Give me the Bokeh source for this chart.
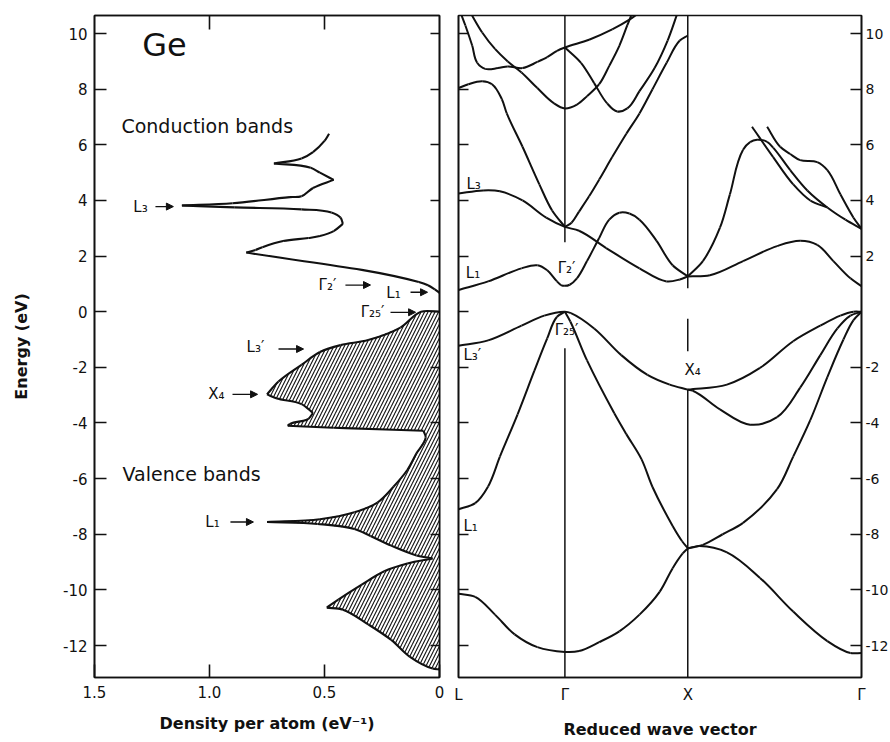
import math
from bokeh.plotting import figure
from bokeh.layouts import row
from bokeh.models import (Range1d, FixedTicker, LinearAxis, Label, Arrow,
                          NormalHead, ColumnDataSource)
from bokeh.embed import file_html
from bokeh.resources import INLINE

# ---------------- data ----------------
energy_ticks = [-12, -10, -8, -6, -4, -2, 0, 2, 4, 6, 8, 10]
energy_ticks_right = [-12, -10, -8, -6, -4, -2, 2, 4, 6, 8, 10]
dens_ticks = [1.5, 1.0, 0.5, 0.0]
dens_tick_labels = ["1.5", "1.0", "0.5", "0"]
k_sym = [0.0, 0.866, 1.866, 3.28]
k_sym_labels = ["L", "Γ", "X", "Γ"]

# density of states, conduction band (eV, states/eV/atom)
cond_e = [0.68, 0.80, 0.95, 1.07, 2.13, 2.22, 2.32, 2.54, 2.65, 2.72, 2.90, 3.16, 3.38, 3.57,
          3.68, 3.75, 3.82, 3.90, 4.12, 4.15, 4.45, 4.74, 5.00, 5.18, 5.33, 5.51, 5.74, 6.14, 6.40]
cond_d = [0.00, 0.02, 0.05, 0.09, 0.84, 0.80, 0.77, 0.68, 0.57, 0.52, 0.46, 0.42, 0.43, 0.47,
          0.60, 0.89, 1.12, 0.90, 0.65, 0.60, 0.55, 0.46, 0.52, 0.56, 0.72, 0.60, 0.55, 0.50, 0.48]

# density of states, valence band
val_e = [0.00, 0.00, -0.57, -1.02, -1.20, -1.45, -1.91, -2.51, -2.97, -3.11, -3.32, -3.64, -3.85,
         -4.03, -4.10, -4.17, -4.28, -4.52, -5.09, -5.69, -6.29, -6.86, -7.21, -7.46, -7.56, -7.63,
         -7.81, -8.06, -8.41, -8.76, -8.87, -9.05, -9.33, -9.82, -10.35, -10.64, -10.71, -11.24,
         -11.80, -12.40, -12.83, -12.86]
val_d = [0.00, 0.08, 0.17, 0.31, 0.43, 0.52, 0.60, 0.70, 0.75, 0.71, 0.60, 0.55, 0.57,
         0.65, 0.66, 0.46, 0.07, 0.06, 0.10, 0.14, 0.20, 0.27, 0.37, 0.52, 0.75, 0.53,
         0.37, 0.30, 0.21, 0.10, 0.03, 0.14, 0.24, 0.34, 0.44, 0.49, 0.42, 0.31,
         0.21, 0.13, 0.03, 0.00]

# band structure: valence bands (k along L-Γ-X-Γ, energy eV)
vb1_k = [0.0, 0.136, 0.297, 0.457, 0.642, 0.866, 0.981, 1.145, 1.309, 1.473, 1.637, 1.743, 1.825,
         1.866, 1.964, 2.185, 2.454, 2.724, 3.002, 3.190, 3.28]
vb1_e = [-10.14, -10.25, -10.89, -11.60, -12.06, -12.23, -12.20, -11.88, -11.49, -10.89, -10.07,
         -9.22, -8.69, -8.51, -8.42, -8.65, -9.57, -10.78, -11.84, -12.27, -12.27]
vb2_k = [0.0, 0.136, 0.241, 0.337, 0.481, 0.617, 0.722, 0.802, 0.866, 0.91, 1.046, 1.268, 1.366,
         1.489, 1.579, 1.743, 1.82, 1.866, 1.93, 1.989, 2.15, 2.316, 2.593, 2.724, 2.863, 3.002,
         3.133, 3.215, 3.28]
vb2_e = [-7.10, -6.88, -6.28, -5.21, -3.69, -2.13, -0.96, -0.18, 0.0, -0.35, -1.75, -3.65, -4.40,
         -5.30, -6.30, -7.70, -8.25, -8.50, -8.45, -8.38, -8.00, -7.59, -6.38, -5.21, -3.90, -2.35,
         -1.00, -0.30, 0.0]
vb3_k = [0.0, 0.241, 0.513, 0.698, 0.866, 0.915, 1.104, 1.325, 1.538, 1.719, 1.866, 2.185, 2.454,
         2.724, 2.945, 3.108, 3.215, 3.28]
vb3_e = [-1.22, -1.03, -0.50, -0.14, 0.0, -0.05, -0.60, -1.56, -2.27, -2.62, -2.80, -2.62, -2.02,
         -1.06, -0.50, -0.14, 0.0, 0.0]
vb4_k = [1.866, 1.907, 2.128, 2.373, 2.593, 2.781, 2.945, 3.084, 3.190, 3.28]
vb4_e = [-2.80, -2.84, -3.51, -4.06, -3.79, -2.73, -1.56, -0.60, -0.14, 0.0]

# band structure: conduction bands
cb1_k = [0.0, 0.241, 0.513, 0.642, 0.722, 0.802, 0.834, 0.866, 0.905, 0.964, 1.046, 1.145, 1.227,
         1.309, 1.391, 1.473, 1.612, 1.743, 1.866, 2.046, 2.316, 2.593, 2.781, 2.920, 3.051,
         3.190, 3.28]
cb1_e = [0.78, 1.09, 1.56, 1.67, 1.49, 1.09, 0.96, 0.93, 0.97, 1.20, 1.82, 2.65, 3.31,
         3.56, 3.53, 3.31, 2.55, 1.67, 1.27, 1.31, 1.82, 2.36, 2.55, 2.40, 1.82,
         1.20, 0.92]
cb2_k = [0.0, 0.2, 0.337, 0.521, 0.714, 0.866, 0.981, 1.202, 1.473, 1.694, 1.801, 1.866, 1.989,
         2.128, 2.209, 2.316, 2.373, 2.430, 2.512, 2.561, 2.700, 2.839, 3.002, 3.149, 3.28]
cb2_e = [4.25, 4.36, 4.33, 4.00, 3.38, 3.05, 2.91, 2.29, 1.56, 1.09, 1.16, 1.27, 1.82,
         3.02, 4.22, 5.82, 6.10, 6.18, 6.11, 5.90, 5.09, 4.36, 3.75, 3.31, 2.98]
cb3_k = [0.0, 0.08, 0.193, 0.273, 0.353, 0.393, 0.521, 0.658, 0.762, 0.866, 0.92, 0.981, 1.063,
         1.145, 1.251, 1.366, 1.473, 1.579, 1.694, 1.801, 1.866]
cb3_e = [8.04, 8.18, 8.29, 8.18, 7.64, 7.13, 5.93, 4.58, 3.64, 3.05, 3.20, 3.60, 4.15,
         4.75, 5.56, 6.40, 7.13, 8.00, 8.95, 9.75, 9.93]
cb4_k = [0.096, 0.193, 0.297, 0.401, 0.513, 0.642, 0.778, 0.866, 0.964, 1.046, 1.145, 1.227,
         1.309, 1.374, 1.415]
cb4_e = [10.76, 10.04, 9.45, 9.00, 8.60, 8.04, 7.49, 7.31, 7.45, 7.75, 8.18, 8.84,
         9.56, 10.30, 10.76]
cb5_k = [0.016, 0.056, 0.112, 0.152, 0.217, 0.321, 0.401, 0.521, 0.642, 0.722, 0.802, 0.866,
         1.063, 1.251, 1.391, 1.473]
cb5_e = [10.76, 10.29, 9.56, 8.95, 8.73, 8.76, 8.82, 8.76, 8.98, 9.15, 9.38, 9.50,
         9.78, 10.15, 10.50, 10.76]
cb6_k = [0.866, 0.997, 1.104, 1.210, 1.292, 1.374, 1.473, 1.596, 1.702, 1.784]
cb6_e = [9.50, 8.95, 8.22, 7.49, 7.20, 7.31, 7.93, 8.76, 9.75, 10.76]
cb7_k = [2.389, 2.561, 2.724, 2.863, 3.002]
cb7_e = [6.65, 5.56, 4.58, 4.00, 3.75]
cb8_k = [2.512, 2.618, 2.700, 2.781, 2.920, 3.002, 3.108, 3.215, 3.28]
cb8_e = [6.65, 5.93, 5.67, 5.45, 5.38, 5.09, 4.22, 3.38, 2.98]

# symmetry-point vertical lines (k, energy from, energy to)
symline_k = [0.866, 0.866, 1.866, 1.866, 1.866]
symline_e0 = [2.50, -14.0, 0.84, -1.42, -14.0]
symline_e1 = [12.0, -1.31, 12.0, -0.25, -2.80]

# DOS critical-point labels (text, label density, arrow start/end density, energy)
dos_lab_text = ["L₃", "Γ₂′", "L₁", "Γ₂₅′", "L₃′", "X₄", "L₁"]
dos_lab_d = [1.300, 0.487, 0.200, 0.291, 0.800, 0.970, 0.987]
dos_lab_e = [3.78, 0.96, 0.68, 0.00, -1.27, -2.97, -7.56]
dos_arr_d0 = [1.235, 0.409, 0.126, 0.213, 0.700, 0.900, 0.909]
dos_arr_d1 = [1.157, 0.300, 0.052, 0.104, 0.591, 0.791, 0.809]
dos_arr_e = [3.78, 0.96, 0.70, -0.02, -1.34, -2.97, -7.56]

# band-structure labels
bs_lab_text = ["L₃", "L₁", "L₃′", "L₁"]
bs_lab_k = [0.065, 0.060, 0.040, 0.040]
bs_lab_e = [4.58, 1.38, -1.56, -7.70]
bs_clab_text = ["Γ₂′", "Γ₂₅′", "X₄"]
bs_clab_k = [0.880, 0.880, 1.905]
bs_clab_e = [1.56, -0.64, -2.09]
edge_lab_text = ["Γ₂′", "Γ₂₅′"]
edge_lab_e = [0.73, -0.28]

# ---------------- styling / drawing helpers ----------------
FONT = "DejaVu Sans"
BLACK = "#111111"
E_RANGE = (-13.15, 10.65)
FH = 662
PX_E = FH / (E_RANGE[1] - E_RANGE[0])
HYPHEN_LABELS = {t: str(t) for t in energy_ticks}


def smooth_path(xs, ys, sx, sy, breaks=(), corner=70.0):
    """Bezier pieces passing through the read points (rendering only)."""
    P = [(x * sx, y * sy) for x, y in zip(xs, ys)]
    n = len(P)

    def unit(vx, vy):
        L = math.hypot(vx, vy)
        return (vx / L, vy / L) if L > 0 else (0.0, 0.0)

    T = [None] * n
    for i in range(1, n - 1):
        a = unit(P[i][0] - P[i - 1][0], P[i][1] - P[i - 1][1])
        b = unit(P[i + 1][0] - P[i][0], P[i + 1][1] - P[i][1])
        cosang = max(-1.0, min(1.0, a[0] * b[0] + a[1] * b[1]))
        if math.degrees(math.acos(cosang)) > corner or xs[i] in breaks:
            continue
        T[i] = unit(a[0] + b[0], a[1] + b[1])
    out = dict(x0=[], y0=[], x1=[], y1=[], cx0=[], cy0=[], cx1=[], cy1=[])
    for i in range(n - 1):
        (ax, ay), (bx, by) = P[i], P[i + 1]
        d = math.hypot(bx - ax, by - ay)
        ch = unit(bx - ax, by - ay)
        t0 = T[i] if T[i] is not None else ch
        t1 = T[i + 1] if T[i + 1] is not None else ch
        out["x0"].append(ax / sx); out["y0"].append(ay / sy)
        out["x1"].append(bx / sx); out["y1"].append(by / sy)
        out["cx0"].append((ax + t0[0] * d / 3) / sx); out["cy0"].append((ay + t0[1] * d / 3) / sy)
        out["cx1"].append((bx - t1[0] * d / 3) / sx); out["cy1"].append((by - t1[1] * d / 3) / sy)
    return out


def merge(parts):
    res = {k: [] for k in parts[0]}
    for p in parts:
        for k in res:
            res[k].extend(p[k])
    return res


def style_axis(ax, tick_in, labels=True, size="15px", standoff=6):
    ax.major_tick_in = tick_in
    ax.major_tick_out = 0
    ax.minor_tick_in = 0
    ax.minor_tick_out = 0
    ax.axis_line_color = BLACK
    ax.axis_line_width = 1.6
    ax.major_tick_line_color = BLACK
    ax.major_tick_line_width = 1.6
    ax.major_label_text_font = FONT
    ax.major_label_text_color = BLACK
    ax.major_label_standoff = standoff
    ax.major_label_text_font_size = size
    if not labels:
        ax.major_label_text_font_size = "1px"
        ax.major_label_text_alpha = 0
        ax.major_label_standoff = 0
    ax.axis_label_text_font = FONT
    ax.axis_label_text_font_style = "bold"
    ax.axis_label_text_font_size = "16px"
    ax.axis_label_text_color = BLACK


TOP, BOTTOM = 15, 56

# ---------------- left panel: density of states ----------------
p1 = figure(frame_width=345, frame_height=FH, x_range=Range1d(1.5, 0.0),
            y_range=Range1d(*E_RANGE), output_backend="svg", toolbar_location=None,
            min_border_left=94, min_border_right=5, min_border_top=TOP,
            min_border_bottom=BOTTOM)
p1.grid.visible = False
p1.outline_line_color = BLACK
p1.outline_line_width = 1.6

p1.yaxis.ticker = FixedTicker(ticks=energy_ticks)
p1.yaxis.major_label_overrides = HYPHEN_LABELS
style_axis(p1.yaxis[0], 12, standoff=7)
p1.yaxis.axis_label = "Energy (eV)"
p1.yaxis.axis_label_standoff = 29

p1.xaxis.ticker = FixedTicker(ticks=dens_ticks)
p1.xaxis.major_label_overrides = {t: s for t, s in zip(dens_ticks, dens_tick_labels)}
style_axis(p1.xaxis[0], 13, standoff=8)
p1.xaxis.axis_label = "Density per atom (eV⁻¹)"
p1.xaxis.axis_label_standoff = 13

ax_r1 = LinearAxis(ticker=FixedTicker(ticks=energy_ticks))
style_axis(ax_r1, 9, labels=False)
p1.add_layout(ax_r1, "right")
ax_t1 = LinearAxis(ticker=FixedTicker(ticks=[1.0, 0.5]))
style_axis(ax_t1, 14, labels=False)
p1.add_layout(ax_t1, "above")

SX_D = 345 / 1.5
p1.patch(x=val_d, y=val_e, fill_color="white", hatch_pattern="/", hatch_scale=7,
         hatch_weight=1.1, hatch_color=BLACK, line_color=None)
dos_src = ColumnDataSource(merge([smooth_path(val_d, val_e, SX_D, PX_E, corner=60),
                                  smooth_path(cond_d, cond_e, SX_D, PX_E, corner=60)]))
p1.bezier(x0="x0", y0="y0", x1="x1", y1="y1", cx0="cx0", cy0="cy0", cx1="cx1", cy1="cy1",
          source=dos_src, line_color=BLACK, line_width=2.1)

arr_src = ColumnDataSource(dict(x0=dos_arr_d0, x1=dos_arr_d1, y=dos_arr_e))
p1.add_layout(Arrow(end=NormalHead(size=7, fill_color=BLACK, line_color=BLACK, line_width=1),
                    x_start="x0", y_start="y", x_end="x1", y_end="y", source=arr_src,
                    line_color=BLACK, line_width=1.3))
for t, d, e in zip(dos_lab_text, dos_lab_d, dos_lab_e):
    p1.add_layout(Label(x=d, y=e, text=t, text_font=FONT, text_font_size="15px",
                        text_align="center", text_baseline="middle", text_color=BLACK))

p1.add_layout(Label(x=1.196, y=9.6, text="Ge", text_font=FONT, text_font_size="32px",
                    text_align="center", text_baseline="middle", text_color=BLACK))
p1.add_layout(Label(x=1.383, y=6.69, text="Conduction bands", text_font=FONT,
                    text_font_size="19px", text_align="left", text_baseline="middle",
                    text_color=BLACK))
p1.add_layout(Label(x=1.378, y=-5.83, text="Valence bands", text_font=FONT,
                    text_font_size="19px", text_align="left", text_baseline="middle",
                    text_color=BLACK))

# ---------------- right panel: band structure ----------------
FW2 = 403
p2 = figure(frame_width=FW2, frame_height=FH, x_range=Range1d(0.0, k_sym[-1]),
            y_range=Range1d(*E_RANGE), output_backend="svg", toolbar_location=None,
            min_border_left=14, min_border_right=28, min_border_top=TOP,
            min_border_bottom=BOTTOM)
p2.grid.visible = False
p2.outline_line_color = BLACK
p2.outline_line_width = 1.6

p2.yaxis.ticker = FixedTicker(ticks=energy_ticks)
style_axis(p2.yaxis[0], 10, labels=False)

p2.xaxis.ticker = FixedTicker(ticks=k_sym)
p2.xaxis.major_label_overrides = {t: s for t, s in zip(k_sym, k_sym_labels)}
style_axis(p2.xaxis[0], 0, standoff=8)
p2.xaxis.axis_label = "Reduced wave vector"
p2.xaxis.axis_label_standoff = 13

ax_r2 = LinearAxis(ticker=FixedTicker(ticks=energy_ticks_right),
                   major_label_overrides={t: str(t) for t in energy_ticks_right})
style_axis(ax_r2, 11, size="14px", standoff=4)
p2.add_layout(ax_r2, "right")

p2.segment(x0=symline_k, y0=symline_e0, x1=symline_k, y1=symline_e1,
           line_color=BLACK, line_width=1.5)

SX_K = FW2 / k_sym[-1]
bands_k = [vb1_k, vb2_k, vb3_k, vb4_k, cb1_k, cb2_k, cb3_k, cb4_k, cb5_k, cb6_k, cb7_k, cb8_k]
bands_e = [vb1_e, vb2_e, vb3_e, vb4_e, cb1_e, cb2_e, cb3_e, cb4_e, cb5_e, cb6_e, cb7_e, cb8_e]
band_src = ColumnDataSource(merge([smooth_path(bk, be, SX_K, PX_E, breaks=(k_sym[2],))
                                   for bk, be in zip(bands_k, bands_e)]))
p2.bezier(x0="x0", y0="y0", x1="x1", y1="y1", cx0="cx0", cy0="cy0", cx1="cx1", cy1="cy1",
          source=band_src, line_color=BLACK, line_width=2.0)

for t, k, e in zip(bs_lab_text, bs_lab_k, bs_lab_e):
    p2.add_layout(Label(x=k, y=e, text=t, text_font=FONT, text_font_size="15px",
                        text_align="left", text_baseline="middle", text_color=BLACK))
for t, k, e in zip(bs_clab_text, bs_clab_k, bs_clab_e):
    p2.add_layout(Label(x=k, y=e, text=t, text_font=FONT, text_font_size="15px",
                        text_align="center", text_baseline="middle", text_color=BLACK))
for t, e in zip(edge_lab_text, edge_lab_e):
    p2.add_layout(Label(x=k_sym[-1], y=e, x_offset=4, text=t, text_font=FONT,
                        text_font_size="13px", text_align="left", text_baseline="middle",
                        text_color=BLACK))

layout = row(p1, p2)
open("out.html", "w").write(file_html(layout, INLINE))
